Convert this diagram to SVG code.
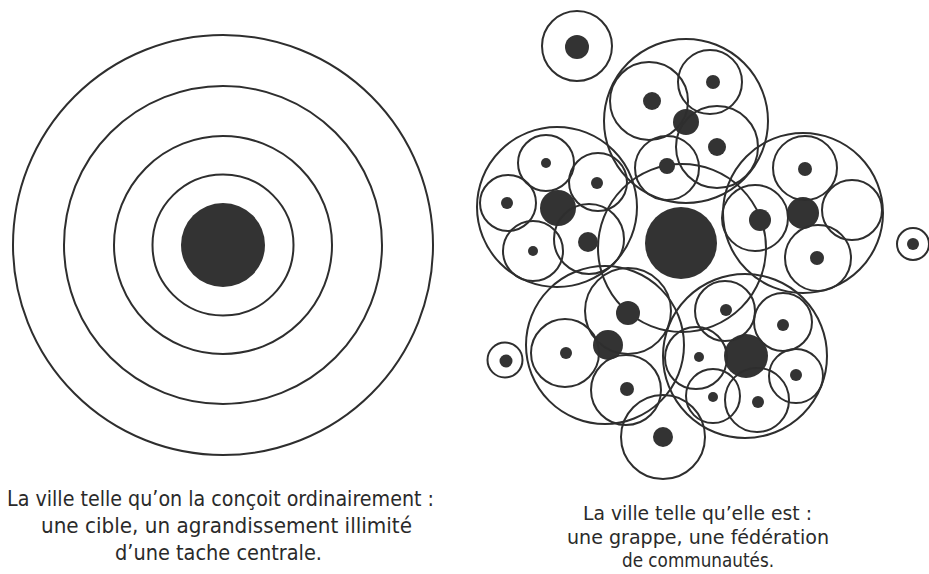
<svg xmlns="http://www.w3.org/2000/svg" width="929" height="574" viewBox="0 0 929 574">
<style>
.r{fill:none;stroke:#2e2e2e;stroke-width:2}
.d{fill:#333;stroke:none}
.t{font-family:"DejaVu Sans Condensed","DejaVu Sans","Liberation Sans",sans-serif;font-stretch:condensed;font-size:22px;fill:#2a2a2a}
.s{font-size:20px}
</style>
<rect width="929" height="574" fill="#fff"/>
<g id="target">
<circle class="r" cx="223" cy="245" r="210" stroke-width="1.8"/>
<circle class="r" cx="223" cy="245" r="159" stroke-width="2.4"/>
<circle class="r" cx="223" cy="245" r="109" stroke-width="2.8"/>
<circle class="r" cx="223" cy="245" r="70.5" stroke-width="3.4"/>
<circle class="d" cx="223" cy="245" r="42"/>
</g>
<g id="centre">
<circle class="r" cx="682" cy="248" r="84"/>
<circle class="d" cx="681" cy="243" r="36"/>
</g>
<g id="top">
<circle class="r" cx="686" cy="121" r="82"/>
<circle class="d" cx="686" cy="122" r="13"/>
<circle class="r" cx="649" cy="101" r="39"/><circle class="d" cx="652" cy="101" r="9"/>
<circle class="r" cx="710" cy="82" r="32"/><circle class="d" cx="713" cy="82" r="7"/>
<circle class="r" cx="717" cy="147" r="41"/><circle class="d" cx="717" cy="147" r="9"/>
<circle class="r" cx="667" cy="168" r="32"/><circle class="d" cx="667" cy="166" r="8"/>
</g>
<g id="left">
<circle class="r" cx="557" cy="207" r="80"/>
<circle class="d" cx="558" cy="208" r="18"/>
<circle class="r" cx="546" cy="163" r="28"/><circle class="d" cx="546" cy="163" r="5"/>
<circle class="r" cx="598" cy="182" r="29"/><circle class="d" cx="597" cy="183" r="6"/>
<circle class="r" cx="508" cy="203" r="28"/><circle class="d" cx="507" cy="203" r="6"/>
<circle class="r" cx="533" cy="251" r="30"/><circle class="d" cx="533" cy="251" r="5"/>
<circle class="r" cx="589" cy="239" r="35"/><circle class="d" cx="588" cy="242" r="10"/>
</g>
<g id="right">
<circle class="r" cx="803" cy="213" r="80"/>
<circle class="d" cx="803" cy="213" r="16"/>
<circle class="r" cx="805" cy="168" r="32"/><circle class="d" cx="805" cy="169" r="7"/>
<circle class="r" cx="852" cy="210" r="30"/>
<circle class="r" cx="818" cy="258" r="33"/><circle class="d" cx="817" cy="258" r="7"/>
<circle class="r" cx="755" cy="218" r="33"/><circle class="d" cx="760" cy="220" r="11"/>
</g>
<g id="bottom-left">
<circle class="r" cx="605" cy="345" r="79"/>
<circle class="d" cx="608" cy="345" r="15"/>
<circle class="r" cx="628" cy="311" r="43"/><circle class="d" cx="628" cy="313" r="12"/>
<circle class="r" cx="565" cy="353" r="34"/><circle class="d" cx="566" cy="353" r="6"/>
<circle class="r" cx="626" cy="390" r="35"/><circle class="d" cx="627" cy="389" r="7"/>
<circle class="r" cx="663" cy="437" r="42"/><circle class="d" cx="663" cy="437" r="10"/>
</g>
<g id="bottom-right">
<circle class="r" cx="745" cy="356" r="82"/>
<circle class="d" cx="746" cy="356" r="22"/>
<circle class="r" cx="725" cy="311" r="30"/><circle class="d" cx="726" cy="310" r="6"/>
<circle class="r" cx="783" cy="322" r="29"/><circle class="d" cx="783" cy="325" r="6"/>
<circle class="r" cx="796" cy="376" r="27"/><circle class="d" cx="796" cy="375" r="6"/>
<circle class="r" cx="757" cy="400" r="32"/><circle class="d" cx="758" cy="402" r="6"/>
<circle class="r" cx="713" cy="396" r="27"/><circle class="d" cx="713" cy="397" r="5"/>
<circle class="r" cx="696" cy="358" r="31"/><circle class="d" cx="699" cy="357" r="5"/>
</g>
<g id="isolated-1"><circle class="r" cx="577" cy="46" r="35"/><circle class="d" cx="577" cy="47" r="12"/></g>
<g id="isolated-2"><circle class="r" cx="913" cy="244" r="16"/><circle class="d" cx="913" cy="244" r="6"/></g>
<g id="isolated-3"><circle class="r" cx="505" cy="360" r="17.5"/><circle class="d" cx="506" cy="361" r="6.5"/></g>
<g id="captions">
<text class="t" x="7" y="506" textLength="427" lengthAdjust="spacingAndGlyphs">La ville telle qu’on la conçoit ordinairement :</text>
<text class="t" x="41" y="533" textLength="371" lengthAdjust="spacingAndGlyphs">une cible, un agrandissement illimité</text>
<text class="t" x="115" y="560" textLength="207" lengthAdjust="spacingAndGlyphs">d’une tache centrale.</text>
<text class="t s" x="583" y="520" textLength="229" lengthAdjust="spacingAndGlyphs">La ville telle qu’elle est :</text>
<text class="t s" x="567" y="544" textLength="262" lengthAdjust="spacingAndGlyphs">une grappe, une fédération</text>
<text class="t s" x="622" y="567" textLength="152" lengthAdjust="spacingAndGlyphs">de communautés.</text>
</g>
</svg>
